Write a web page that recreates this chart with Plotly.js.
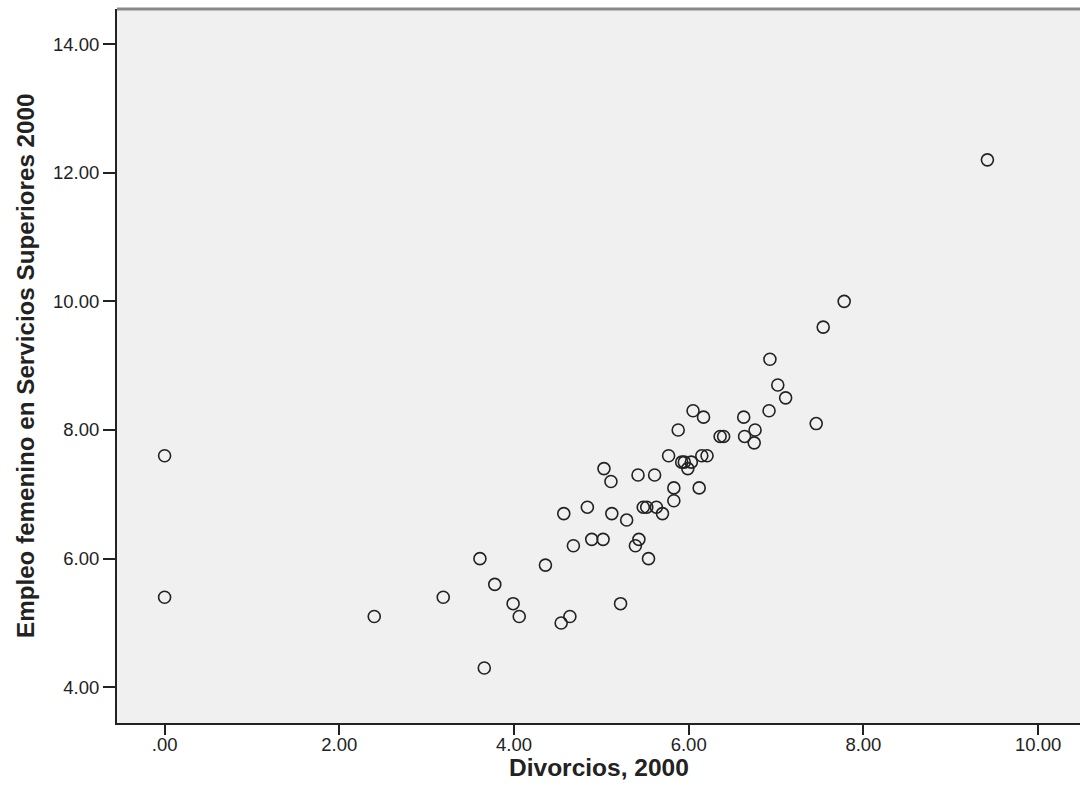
<!DOCTYPE html>
<html>
<head>
<meta charset="utf-8">
<script src="https://cdn.plot.ly/plotly-3.0.1.min.js"></script>
<style>html,body{margin:0;padding:0;background:#fff;}#chart{width:1080px;height:798px;}</style>
</head>
<body>
<div id="chart"></div>
<script>
const divorcios = [0.00,0.00,2.40,3.19,3.61,3.66,3.78,3.99,4.06,4.36,4.54,4.57,4.64,4.68,4.84,4.89,5.02,5.03,5.11,5.12,5.22,5.29,5.39,5.43,5.42,5.48,5.52,5.54,5.61,5.63,5.70,5.77,5.83,5.83,5.88,5.92,5.95,5.99,6.03,6.05,6.12,6.15,6.17,6.21,6.36,6.40,6.63,6.64,6.75,6.76,6.92,6.93,7.02,7.11,7.46,7.54,7.78,9.42];
const empleo = [7.6,5.4,5.1,5.4,6.0,4.3,5.6,5.3,5.1,5.9,5.0,6.7,5.1,6.2,6.8,6.3,6.3,7.4,7.2,6.7,5.3,6.6,6.2,6.3,7.3,6.8,6.8,6.0,7.3,6.8,6.7,7.6,7.1,6.9,8.0,7.5,7.5,7.4,7.5,8.3,7.1,7.6,8.2,7.6,7.9,7.9,8.2,7.9,7.8,8.0,8.3,9.1,8.7,8.5,8.1,9.6,10.0,12.2];
const xTickVals = [0,2,4,6,8,10];
const xTickText = [".00","2.00","4.00","6.00","8.00","10.00"];
const yTickVals = [4,6,8,10,12,14];
const yTickText = ["4.00","6.00","8.00","10.00","12.00","14.00"];
const xTitle = 'Divorcios, 2000';
const yTitle = 'Empleo femenino en Servicios Superiores 2000';

const trace = {
  x: divorcios, y: empleo, type: 'scatter', mode: 'markers',
  marker: {symbol: 'circle-open', size: 12, color: '#222', line: {width: 1.6, color: '#222'}},
  hoverinfo: 'x+y'
};
const fam = 'Liberation Sans, Arial, sans-serif';
const layout = {
  width: 1080, height: 798,
  margin: {l: 117, r: 0, t: 9, b: 75},
  paper_bgcolor: '#ffffff', plot_bgcolor: '#f0f0f0',
  font: {family: fam, color: '#222'},
  showlegend: false,
  xaxis: {
    range: [-0.545, 10.48], tickvals: xTickVals, ticktext: xTickText,
    showgrid: false, zeroline: false, showline: true, linecolor: '#222', linewidth: 2,
    ticks: 'outside', ticklen: 10, tickwidth: 2, tickcolor: '#222',
    ticklabelstandoff: -6,
    tickfont: {family: fam, size: 18.5, color: '#222'}
  },
  yaxis: {
    range: [3.445, 14.545], tickvals: yTickVals, ticktext: yTickText,
    showgrid: false, zeroline: false, showline: true, linecolor: '#222', linewidth: 2,
    ticks: 'outside', ticklen: 12, tickwidth: 2, tickcolor: '#222',
    tickfont: {family: fam, size: 18.5, color: '#222'}
  },
  annotations: [
    {text: '<b>' + xTitle + '</b>', xref: 'paper', yref: 'paper', x: 0.5, y: 0, xanchor: 'center', yanchor: 'middle',
     yshift: -44, showarrow: false, font: {family: fam, size: 24.5, color: '#222'}},
    {text: '<b>' + yTitle + '</b>', xref: 'paper', yref: 'paper', x: 0, y: 0.5, xanchor: 'center', yanchor: 'middle',
     xshift: -92, textangle: -90, showarrow: false, font: {family: fam, size: 24.2, color: '#222'}}
  ],
  shapes: [{type: 'line', xref: 'paper', yref: 'paper', x0: 0, x1: 1, y0: 1, y1: 1, line: {color: '#888', width: 3}}]
};
Plotly.newPlot('chart', [trace], layout, {displayModeBar: false, staticPlot: true});
</script>
</body>
</html>
